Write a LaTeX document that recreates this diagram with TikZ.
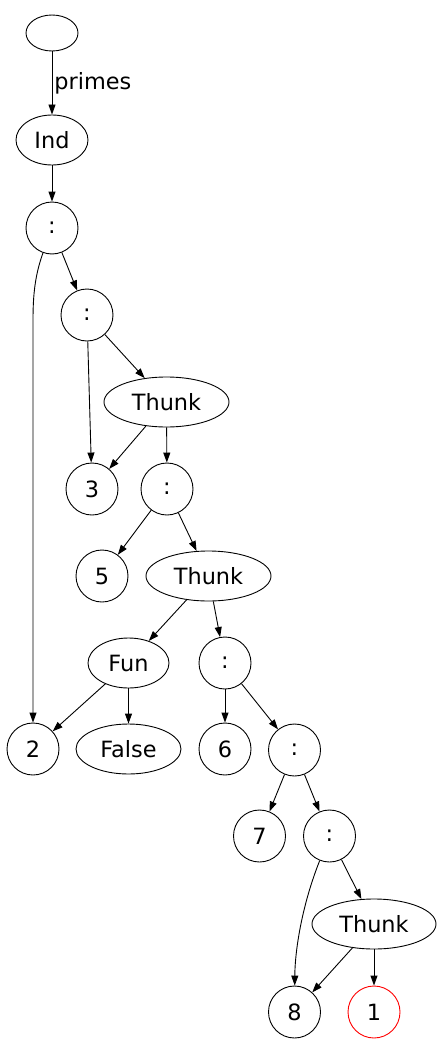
\documentclass[tikz,border=0pt]{standalone}
\usepackage{fontspec}
\setmainfont{DejaVu Sans}
\usetikzlibrary{arrows.meta,shapes.geometric}
\begin{document}
\begin{tikzpicture}[x=1pt,y=-1pt,
  every node/.style={font=\fontsize{22.4}{26}\selectfont, inner sep=0pt},
  circ/.style={draw, ellipse, minimum width=52pt, minimum height=52pt, line width=0.9pt},
  ell/.style={draw, ellipse, minimum height=50pt, line width=0.9pt},
  edge/.style={-{Triangle[length=10pt,width=7pt]}, line width=0.9pt}]
\useasboundingbox (0,0) rectangle (443,1054);
% nodes
\node[ell, minimum width=52pt, minimum height=36pt] (top) at (52,33) {};
\node[ell, minimum width=72pt] (ind) at (52,140) {Ind};
\node[circ] (c1) at (52,228) {:};
\node[circ] (c2) at (87,315) {:};
\node[ell, minimum width=125pt] (th1) at (166.5,402) {Thunk};
\node[circ] (n3) at (92,489) {3};
\node[circ] (c3) at (167,489) {:};
\node[circ] (n5) at (102,576) {5};
\node[ell, minimum width=125pt] (th2) at (208.5,576) {Thunk};
\node[ell, minimum width=81pt] (fun) at (128.5,663) {Fun};
\node[circ] (c4) at (225,663) {:};
\node[circ] (n2) at (33,749) {2};
\node[ell, minimum width=105pt] (false) at (128.5,749) {False};
\node[circ] (n6) at (225,749) {6};
\node[circ] (c5) at (294.5,750) {:};
\node[circ] (n7) at (259.5,836) {7};
\node[circ] (c6) at (329.5,836) {:};
\node[ell, minimum width=124pt] (th3) at (374,924) {Thunk};
\node[circ] (n8) at (294.5,1012) {8};
\node[circ, draw=red] (n1) at (374,1012) {1};
\coordinate (bend) at (33,320);
% edges
\draw[edge] (top) -- node[right=2pt, pos=0.5] (lbl) {primes} (ind);
\draw[edge] (ind) -- (c1);
\draw[edge] (c1) .. controls (35,275) and (33,295) .. (bend) -- (n2);
\draw[edge] (c1) -- (c2);
\draw[edge] (c2) -- (n3);
\draw[edge] (c2) -- (th1);
\draw[edge] (th1) -- (n3);
\draw[edge] (th1) -- (c3);
\draw[edge] (c3) -- (n5);
\draw[edge] (c3) -- (th2);
\draw[edge] (th2) -- (fun);
\draw[edge] (th2) -- (c4);
\draw[edge] (fun) -- (n2);
\draw[edge] (fun) -- (false);
\draw[edge] (c4) -- (n6);
\draw[edge] (c4) -- (c5);
\draw[edge] (c5) -- (n7);
\draw[edge] (c5) -- (c6);
\draw[edge] (c6) .. controls (302,905) and (295,950) .. (n8);
\draw[edge] (c6) -- (th3);
\draw[edge] (th3) -- (n8);
\draw[edge] (th3) -- (n1);
\end{tikzpicture}
\end{document}
